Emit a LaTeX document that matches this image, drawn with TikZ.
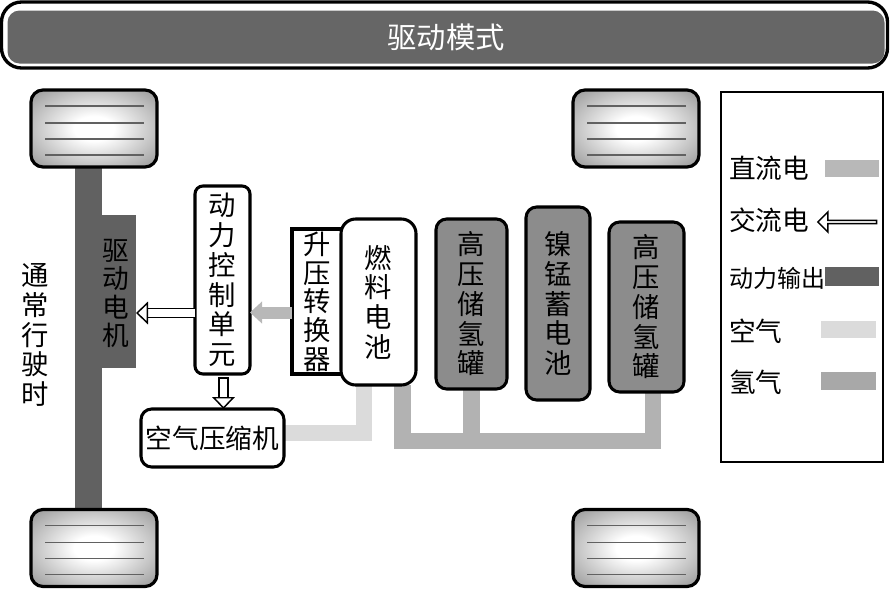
\documentclass[tikz,border=0pt]{standalone}
\usepackage{fontspec}
\newfontfamily\cjk{Noto Sans CJK SC}
\usetikzlibrary{arrows.meta,backgrounds,calc,shapes.arrows}
\newcommand{\fs}[1]{\fontsize{#1}{#1}\selectfont}
\pgfdeclareradialshading{wheelshade}{\pgfpointorigin}{color(0bp)=(white);color(8bp)=(white);color(20bp)=(black!18);color(32bp)=(black!36);color(50bp)=(black!58)}
\tikzset{
  x=0.75pt,y=-0.75pt,
  sz/.style 2 args={minimum width=#1*0.75pt,minimum height=#2*0.75pt,inner sep=0pt,outer sep=0pt},
  box/.style={draw=black,line width=2.3pt,fill=white,rounded corners=8pt,align=center,font=\cjk\fs{20.5},text=black},
  vlabel/.style={align=center,inner sep=0pt,font=\cjk\fs{20.5}},
  tank/.style={box,fill=black!45},
  wheel/.style={draw=black,line width=2.4pt,rounded corners=9pt,shading=wheelshade},
  tread/.style={draw=black!62,line width=0.9pt},
  axle/.style={fill=black!62,draw=none},
  dcflow/.style={draw=black!28,line width=9pt},
  airflow/.style={draw=black!14,line width=12pt},
  hflow/.style={draw=black!30,line width=12.5pt},
  acflow/.style={draw=black,line width=1.1pt,double=white,double distance=5.5pt,
     -{Triangle[length=9pt,width=17pt,fill=white,line width=1.1pt]}},
  legtext/.style={anchor=west,inner sep=0pt,font=\cjk\fs{20}},
}
\newcommand{\wheelat}[3]{%
  \node[wheel,sz={126}{77}] (#1) at (#2,#3) {};
  \foreach \d in {-22.5,-5.5,10.5,26.5}{
    \draw[tread] ($(#1.west)+(14,\d)$) -- ($(#1.east)+(-13,\d)$);
  }%
}
\begin{document}
\begin{tikzpicture}
\useasboundingbox (0,0) rectangle (891,589);
% title
\node[draw=black,line width=2.5pt,fill=white,rounded corners=15pt,sz={886}{66}] (frame) at (444.5,35) {};
\node[rounded corners=9pt,fill=black!60,sz={877}{53},
      text=white,font=\cjk\fs{22}] (title) at (446,37) {驱动模式};
% axle and motor
\node[axle,sz={27}{342}] (axle) at (88.5,338) {};
\node[axle,sz={34}{153}] (motor) at (119,291.5) {};
\node[vlabel,font=\cjk\fs{20}] (motorlabel) at (116,293.5) {驱\\[1.2pt]动\\[1.2pt]电\\[1.2pt]机};
% wheels
\wheelat{wa}{94}{128.5}
\wheelat{wb}{636}{128.5}
\wheelat{wc}{94}{548}
\wheelat{wd}{636}{548}
% side label
\node[vlabel] (mode) at (35,335) {通\\[1.8pt]常\\[1.8pt]行\\[1.8pt]驶\\[1.8pt]时};
% units
\node[box,sz={55}{188},rounded corners=6pt] (ctrl) at (222.5,280) {动\\[1.8pt]力\\[1.8pt]控\\[1.8pt]制\\[1.8pt]单\\[1.8pt]元};
\node[box,sz={51}{145},rounded corners=0pt] (boost) at (317.5,301.5) {升\\[1pt]压\\[1pt]转\\[1pt]换\\[1pt]器};
\node[box,sz={75}{166},rounded corners=11pt] (fuel) at (378.5,302) {燃\\[1.8pt]料\\[1.8pt]电\\[1.8pt]池};
\node[tank,sz={71}{170}] (tanka) at (471.5,304) {高\\[1.8pt]压\\[1.8pt]储\\[1.8pt]氢\\[1.8pt]罐};
\node[tank,sz={64}{193}] (batt) at (558,303.5) {镍\\[1.8pt]锰\\[1.8pt]蓄\\[1.8pt]电\\[1.8pt]池};
\node[tank,sz={75}{170}] (tankb) at (646.5,307) {高\\[1.8pt]压\\[1.8pt]储\\[1.8pt]氢\\[1.8pt]罐};
\node[box,font=\cjk\fs{20},sz={143}{58}] (comp) at (212.5,438) {空气压缩机};
% flows behind the units
\begin{pgfonlayer}{background}
  \draw[airflow] ($(comp.east)+(0,-5)$) -| ($(fuel.south)+(-14.5,0)$);
  \draw[hflow] ($(fuel.south)+(24,0)$) |- ($(tankb.south)+(6.5,49)$) -- ($(tankb.south)+(6.5,0)$);
  \draw[hflow] (tanka.south) -- ($(tanka.south)+(0,52)$);
\end{pgfonlayer}
\draw[dcflow,-{Triangle[length=9pt,width=16pt]}] ($(boost.west)+(0,11)$) -- ($(ctrl.east)+(0,32.5)$);
\draw[acflow] ($(ctrl.west)+(0,33)$) -- ($(motor.east)+(0,21.5)$);
\coordinate (dstart) at ($(ctrl.south)+(1,4)$);
\draw[acflow] (dstart) -- (comp.north -| dstart);
\draw[line width=1.1pt] ($(dstart)+(-5.5,0)$) -- ($(dstart)+(5.5,0)$);
% legend
\node[draw=black,line width=0.9pt,fill=none,sz={162}{370}] (legend) at (802,277) {};
\node[legtext] (l1) at (729,168) {直流电};
\node[legtext] (l2) at (729,220) {交流电};
\node[legtext,font=\cjk\fs{18}] (l3) at (729,278) {动力输出};
\node[legtext] (l4) at (729,331) {空气};
\node[legtext] (l5) at (729,382) {氢气};
\node[fill=black!28,sz={54}{17}] (s1) at (852,168.5) {};
\node[single arrow,draw=black,line width=1.1pt,fill=white,shape border rotate=180,single arrow head extend=3pt,
      single arrow tip angle=90,inner sep=0pt,minimum height=44pt,minimum width=15pt] (s2) at (848,222) {};
\node[fill=black!62,sz={54}{19}] (s3) at (852,276.5) {};
\node[fill=black!14,sz={55}{17}] (s4) at (848.5,329.5) {};
\node[fill=black!34,sz={55}{18}] (s5) at (848.5,381) {};
\end{tikzpicture}
\end{document}
